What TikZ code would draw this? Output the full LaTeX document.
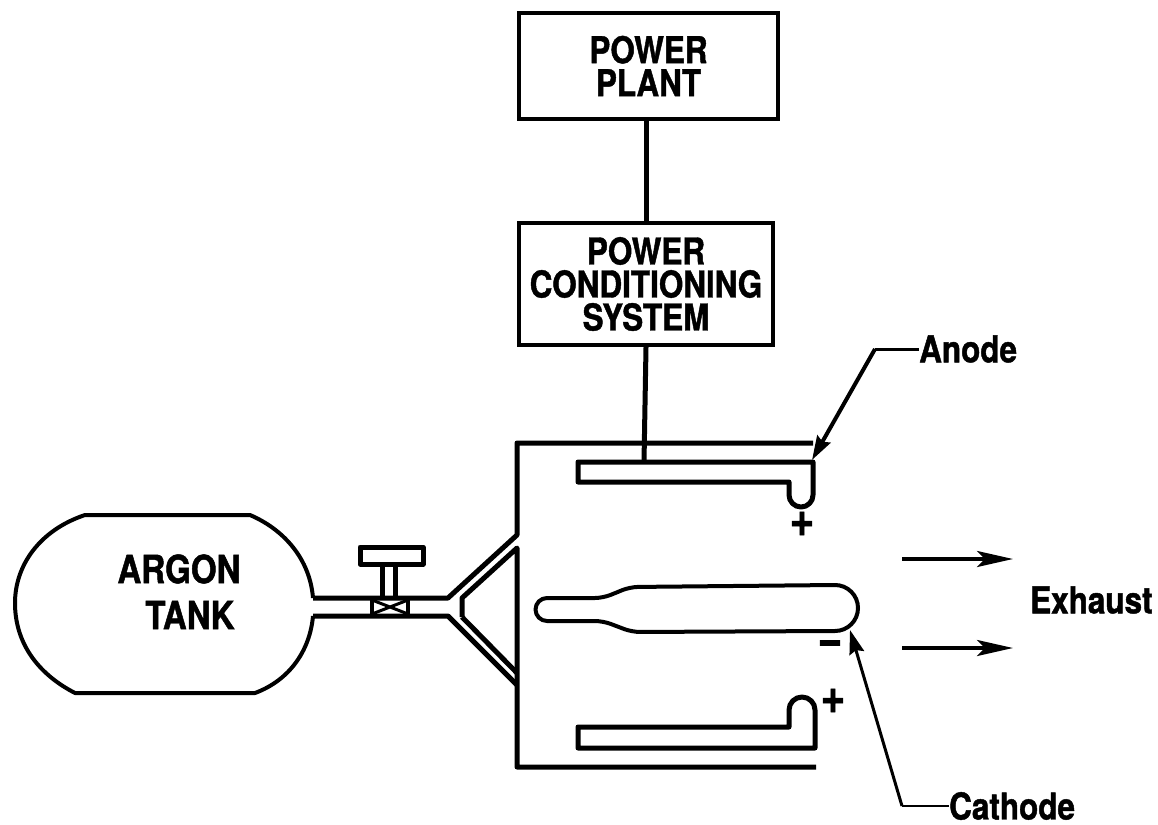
\documentclass[tikz,border=0pt]{standalone}
\usepackage{fontspec}
\setmainfont[FakeStretch=0.85,BoldFeatures={FakeBold=1.2}]{TeX Gyre Heros}
\usetikzlibrary{positioning,calc,arrows.meta}
\tikzset{ARROW/.style={line width=4pt, -{Stealth[length=36pt,width=16pt,inset=8pt]}}}
\tikzset{LEADER/.style={line width=3pt, -{Stealth[length=24pt,width=15pt,inset=3pt]}}}
\tikzset{BOX/.style={rectangle, draw, line width=4pt, align=center, font=\fontsize{37}{33}\selectfont\bfseries, anchor=north west}}
\tikzset{LABEL/.style={align=center, inner sep=0pt, font=\fontsize{37}{33}\selectfont\bfseries}}
\tikzset{SIGN/.style={inner sep=0pt, font=\fontsize{50}{50}\selectfont\bfseries}}
\tikzset{WALL/.style={line width=5pt, line join=round}}
\tikzset{PIPE/.style={line width=4pt, line join=round}}

\begin{document}
\begin{tikzpicture}[x=1pt, y=-1pt]
    \useasboundingbox (0,0) rectangle (1158,824);

    % boxes
    \node[BOX, minimum width=259pt, minimum height=106pt] (n_plant) at (517,11) {POWER\\PLANT};
    \node[BOX, minimum width=254pt, minimum height=122pt] (n_conditioning) at (517,221) {POWER\\CONDITIONING\\SYSTEM};

    % tank
    \node[LABEL, font=\fontsize{39}{33}\selectfont\bfseries] (n_argon) at (179,569) {ARGON};
    \node[LABEL, font=\fontsize{39}{33}\selectfont\bfseries] (n_tank) at (190,615) {TANK};
    \coordinate (pipe_top) at (313,598);
    \coordinate (pipe_bot) at (313,616);
    \draw[PIPE] (pipe_top) .. controls (310,560) and (285,530) .. (250,515) -- (85,515)
        .. controls (40,530) and (15,565) .. (15,603)
        .. controls (15,645) and (40,675) .. (75,693) -- (255,693)
        .. controls (290,680) and (310,650) .. (pipe_bot);

    % chamber
    \coordinate (wall_top) at (517,443);
    \draw[WALL] (813,443) -- (wall_top) -- (517,535) -- (448,598) -- (pipe_top);
    \draw[WALL] (pipe_bot) -- (448,616) -- (517,685);
    \draw[WALL] (462,617) -- (462,598) -- (517,548) -- (517,767) -- (816,767);
    \draw[WALL] (462,617) -- (517,673);

    % valve
    \draw[WALL] (360,547) rectangle (423,564);
    \draw[WALL] (382,564) -- (382,598) (395,564) -- (395,598);
    \draw[line width=3.5pt] (372,598) -- (372,616) (408,598) -- (408,616);
    \draw[line width=3pt] (372,600) -- (408,614) (372,614) -- (408,600);

    % anode
    \coordinate (anode_top) at (644,462);
    \draw[WALL] (578,462) -- (813,462) -- (813,495) arc[start angle=0, end angle=-180, radius=12pt] -- (789,482) -- (578,482) -- cycle;
    \draw[WALL] (578,727) -- (789,727) -- (789,710) arc[start angle=180, end angle=0, radius=13pt] -- (815,748) -- (578,748) -- cycle;
    \draw[WALL] (n_plant.south-|n_conditioning.south) -- (n_conditioning.north);
    \draw[WALL] (n_conditioning.south) -- (anode_top);

    % cathode
    \draw[PIPE] (590,598) -- (547,598) arc[start angle=90, end angle=270, radius=11.5pt] -- (590,621)
        [rounded corners=8pt] -- (603,621) -- (632,632) [sharp corners] -- (835,631) arc[start angle=-90, end angle=90, radius=23pt]
        [rounded corners=8pt] -- (630,587) -- (603,598) [sharp corners] -- cycle;

    % signs
    \node[SIGN] (n_plus1) at (802,524) {+};
    \node[SIGN] (n_plus2) at (833,701) {+};
    \node[SIGN] (n_minus) at (830,648) {\textminus};

    % labels
    \node[LABEL, anchor=west] (n_anode) at (919,349) {Anode};
    \node[LABEL, anchor=west] (n_cathode) at (949,806) {Cathode};
    \node[LABEL, anchor=west] (n_exhaust) at (1030,600) {Exhaust};

    \coordinate (anode_bend) at (875,349);
    \coordinate (anode_tip) at (812,460);
    \coordinate (cathode_bend) at (902,806);
    \coordinate (cathode_tip) at (850,630);
    \draw[line width=3pt] (n_anode.west) -- (anode_bend);
    \draw[LEADER, line width=4pt] (anode_bend) -- (anode_tip);
    \draw[line width=2.5pt] (n_cathode.west) -- (cathode_bend);
    \draw[LEADER] (cathode_bend) -- (cathode_tip);

    \coordinate (flow1) at (902,559);
    \coordinate (flow1_end) at (1013,559);
    \draw[ARROW] (flow1) -- (flow1_end);
    \coordinate (flow2) at (902,648);
    \coordinate (flow2_end) at (1013,648);
    \draw[ARROW] (flow2) -- (flow2_end);
\end{tikzpicture}
\end{document}
